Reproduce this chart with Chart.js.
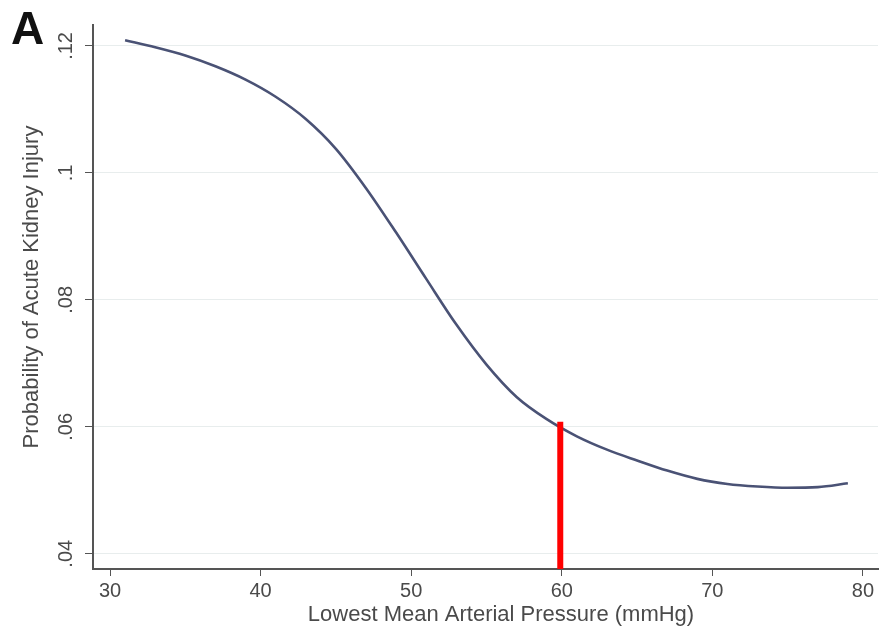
<!DOCTYPE html>
<html><head><meta charset="utf-8">
<script src="https://cdn.jsdelivr.net/npm/chart.js@4.4.0/dist/chart.umd.min.js"></script>
<style>html,body{margin:0;padding:0;background:#fff}#wrap{width:879px;height:629px;position:relative}</style>
</head><body><div id="wrap"><canvas id="c" width="879" height="629"></canvas></div>
<script>
// Lowest MAP (mmHg) vs predicted probability of AKI
const mapValues = [31, 33, 35, 37, 39, 41, 43, 45, 47, 49, 51, 53, 55, 57, 59, 61, 63, 65, 67, 69, 71, 73, 75, 77, 79];
const probAKI   = [0.1209, 0.1198, 0.1185, 0.1168, 0.1147, 0.1120, 0.1085, 0.1038, 0.0976, 0.0906, 0.0833, 0.0761, 0.0698, 0.0647, 0.0612, 0.0585, 0.0564, 0.0547, 0.0531, 0.0518, 0.0510, 0.0506, 0.0504, 0.0505, 0.0511];
// Red cutoff marker at ~60 mmHg
const cutoffX = [59.9, 59.9];
const cutoffY = [0.0376, 0.0608];
const xTicks = [30, 40, 50, 60, 70, 80];
const yTicks = [0.04, 0.06, 0.08, 0.10, 0.12];
const yTickLabels = ['.04', '.06', '.08', '.1', '.12'];
const xTitle = 'Lowest Mean Arterial Pressure (mmHg)';
const yTitle = 'Probability of Acute Kidney Injury';
const panelLabel = 'A';

const FONT = '"Liberation Sans", Arial, sans-serif';
const TXT = '#4a4a4a';

const curveData = mapValues.map((x, i) => ({x: x, y: probAKI[i]}));
const cutoffData = cutoffX.map((x, i) => ({x: x, y: cutoffY[i]}));

const textPlugin = {
  id: 'textPlugin',
  afterDraw(chart) {
    const ctx = chart.ctx;
    const ys = chart.scales.y;
    ctx.save();
    ctx.fillStyle = TXT;
    ctx.font = '20px ' + FONT;
    ctx.textAlign = 'center';
    ctx.textBaseline = 'alphabetic';
    yTicks.forEach((v, i) => {
      const py = ys.getPixelForValue(v);
      ctx.save();
      ctx.translate(72, py);
      ctx.rotate(-Math.PI / 2);
      ctx.fillText(yTickLabels[i], 0, 0);
      ctx.restore();
    });
    ctx.font = '22px ' + FONT;
    ctx.save();
    ctx.translate(38, 287);
    ctx.rotate(-Math.PI / 2);
    ctx.fillText(yTitle, 0, 0);
    ctx.restore();
    ctx.fillText(xTitle, 501, 621);
    ctx.fillStyle = '#111';
    ctx.font = 'bold 46px ' + FONT;
    ctx.textAlign = 'left';
    ctx.fillText(panelLabel, 11, 44);
    ctx.restore();
  }
};

new Chart(document.getElementById('c'), {
  type: 'line',
  data: {
    datasets: [
      {data: cutoffData, borderColor: '#ff0000', borderWidth: 6, pointRadius: 0, borderCapStyle: 'butt', order: 0},
      {data: curveData, borderColor: '#4a5275', borderWidth: 2.6, pointRadius: 0, cubicInterpolationMode: 'monotone', order: 1}
    ]
  },
  options: {
    responsive: false,
    animation: false,
    layout: {padding: {left: 0, right: 1, top: 25, bottom: 0}},
    plugins: {legend: {display: false}, tooltip: {enabled: false}},
    scales: {
      x: {
        type: 'linear', min: 28.87, max: 81,
        afterBuildTicks: s => { s.ticks = xTicks.map(v => ({value: v})); },
        afterFit: s => { s.height = 60; },
        border: {display: true, color: '#555', width: 2},
        grid: {drawOnChartArea: false, color: '#555', tickColor: '#555', tickLength: 7, lineWidth: 1},
        ticks: {color: TXT, font: {size: 20, family: FONT}, padding: 3, maxRotation: 0}
      },
      y: {
        type: 'linear', min: 0.0376, max: 0.1233,
        afterBuildTicks: s => { s.ticks = yTicks.map(v => ({value: v})); },
        afterFit: s => { s.width = 93; },
        border: {display: true, color: '#555', width: 2},
        grid: {color: '#e8eded', tickColor: '#555', tickLength: 8, lineWidth: 1},
        ticks: {display: false}
      }
    }
  },
  plugins: [textPlugin]
});
</script></body></html>
